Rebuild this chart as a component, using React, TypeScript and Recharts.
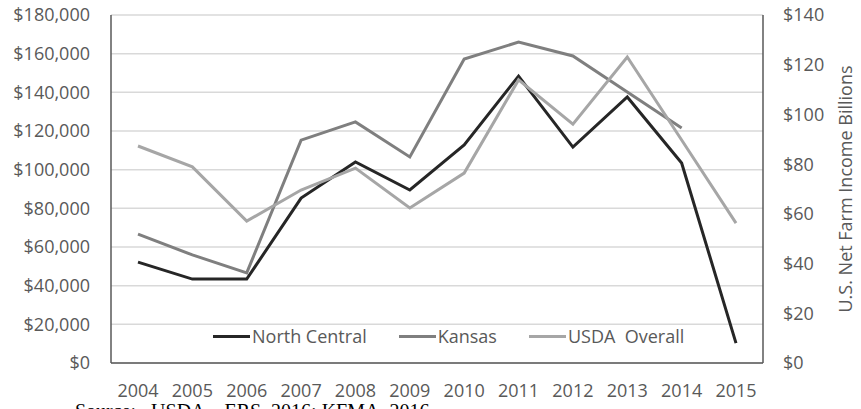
import { CartesianGrid, Legend, Line, LineChart, XAxis, YAxis } from "recharts"

const years = ["2004", "2005", "2006", "2007", "2008", "2009", "2010", "2011", "2012", "2013", "2014", "2015"]
const northCentral = [52200, 43400, 43400, 85300, 104000, 89500, 112800, 148400, 111700, 137600, 103400, 10300]
const kansas = [66700, 55900, 46600, 115300, 124700, 106600, 157200, 166000, 158800, 140200, 121600, null]
const usdaOverall = [87.3, 78.9, 57.1, 69.6, 78.4, 62.4, 76.4, 113.9, 96.1, 123.1, 89.7, 56.3]

const seriesNames = ["North Central", "Kansas", "USDA  Overall"]
const leftTicks = [0, 20000, 40000, 60000, 80000, 100000, 120000, 140000, 160000, 180000]
const rightTicks = [0, 20, 40, 60, 80, 100, 120, 140]

const data = years.map((year, i) => ({
  year,
  northCentral: northCentral[i],
  kansas: kansas[i],
  usda: usdaOverall[i],
}))

const FONT = "'Open Sans', sans-serif"
const TEXT = "#595959"
const BORDER = "#595959"

function LegendContent({ payload }: any) {
  // keep the series order of the original, not alphabetical
  const items = seriesNames
    .map((name) => (payload || []).find((p: any) => p.value === name))
    .filter(Boolean)
  return (
    <div style={{ display: "flex", alignItems: "center", fontFamily: FONT, fontSize: 18, color: TEXT, whiteSpace: "pre" }}>
      {items.map((entry: any, i: number) => (
        <div key={entry.value} style={{ display: "flex", alignItems: "center", marginLeft: i === 0 ? 0 : 32 }}>
          <div style={{ width: 37, height: 3, background: entry.color, marginRight: 2 }} />
          <span style={{ lineHeight: "20px" }}>{entry.value}</span>
        </div>
      ))}
    </div>
  )
}

export default function App() {
  return (
    <div style={{ position: "absolute", left: 0, top: 0, width: 861, height: 409, overflow: "hidden", background: "#fff" }}>
      <LineChart width={861} height={409} data={data} margin={{ top: 15, right: 8, bottom: 16, left: 16 }}>
        <CartesianGrid yAxisId="left" vertical={false} stroke="#d9d9d9" strokeWidth={1.5} />
        <XAxis
          dataKey="year"
          height={30}
          padding={{ left: 27, right: 27 }}
          tickSize={0}
          tickLine={false}
          tickMargin={21}
          axisLine={{ stroke: BORDER, strokeWidth: 1.5 }}
          tick={{ fill: TEXT, fontSize: 18, fontFamily: FONT }}
          interval={0}
        />
        <XAxis
          xAxisId="top"
          orientation="top"
          dataKey="year"
          height={0}
          padding={{ left: 27, right: 27 }}
          tick={false}
          tickLine={false}
          axisLine={{ stroke: BORDER, strokeWidth: 1.5 }}
        />
        <YAxis
          yAxisId="left"
          width={95}
          domain={[0, 180000]}
          ticks={leftTicks}
          tickSize={0}
          tickLine={false}
          tickMargin={21}
          axisLine={{ stroke: BORDER, strokeWidth: 1.5 }}
          tick={{ fill: TEXT, fontSize: 18, fontFamily: FONT }}
          tickFormatter={(v: number) => `$${v.toLocaleString("en-US")}`}
        />
        <YAxis
          yAxisId="right"
          orientation="right"
          width={90}
          domain={[0, 140]}
          ticks={rightTicks}
          tickSize={0}
          tickLine={false}
          tickMargin={20}
          axisLine={{ stroke: BORDER, strokeWidth: 1.5 }}
          tick={{ fill: TEXT, fontSize: 18, fontFamily: FONT, textAnchor: "start" }}
          tickFormatter={(v: number) => `$${v}`}
          label={{
            value: "U.S. Net Farm Income Billions",
            angle: -90,
            position: "center",
            dx: 38,
            fill: TEXT,
            fontSize: 18,
            fontFamily: FONT,
          }}
        />
        <Legend
          layout="horizontal"
          verticalAlign="middle"
          align="center"
          content={<LegendContent />}
          wrapperStyle={{ left: 213, top: 326, width: "auto" }}
        />
        <Line
          yAxisId="left"
          dataKey="northCentral"
          name={seriesNames[0]}
          stroke="#262626"
          strokeWidth={3}
          dot={false}
          isAnimationActive={false}
        />
        <Line
          yAxisId="left"
          dataKey="kansas"
          name={seriesNames[1]}
          stroke="#7f7f7f"
          strokeWidth={3}
          dot={false}
          isAnimationActive={false}
        />
        <Line
          yAxisId="right"
          dataKey="usda"
          name={seriesNames[2]}
          stroke="#a6a6a6"
          strokeWidth={3}
          dot={false}
          isAnimationActive={false}
        />
      </LineChart>
      <div
        style={{
          position: "absolute",
          left: 75,
          top: 401,
          fontFamily: "'Liberation Serif', serif",
          fontSize: 20,
          lineHeight: "20px",
          color: "#000",
          whiteSpace: "pre",
        }}
      >
        {"Source:   USDA – ERS, 2016; KFMA, 2016"}
      </div>
    </div>
  )
}
